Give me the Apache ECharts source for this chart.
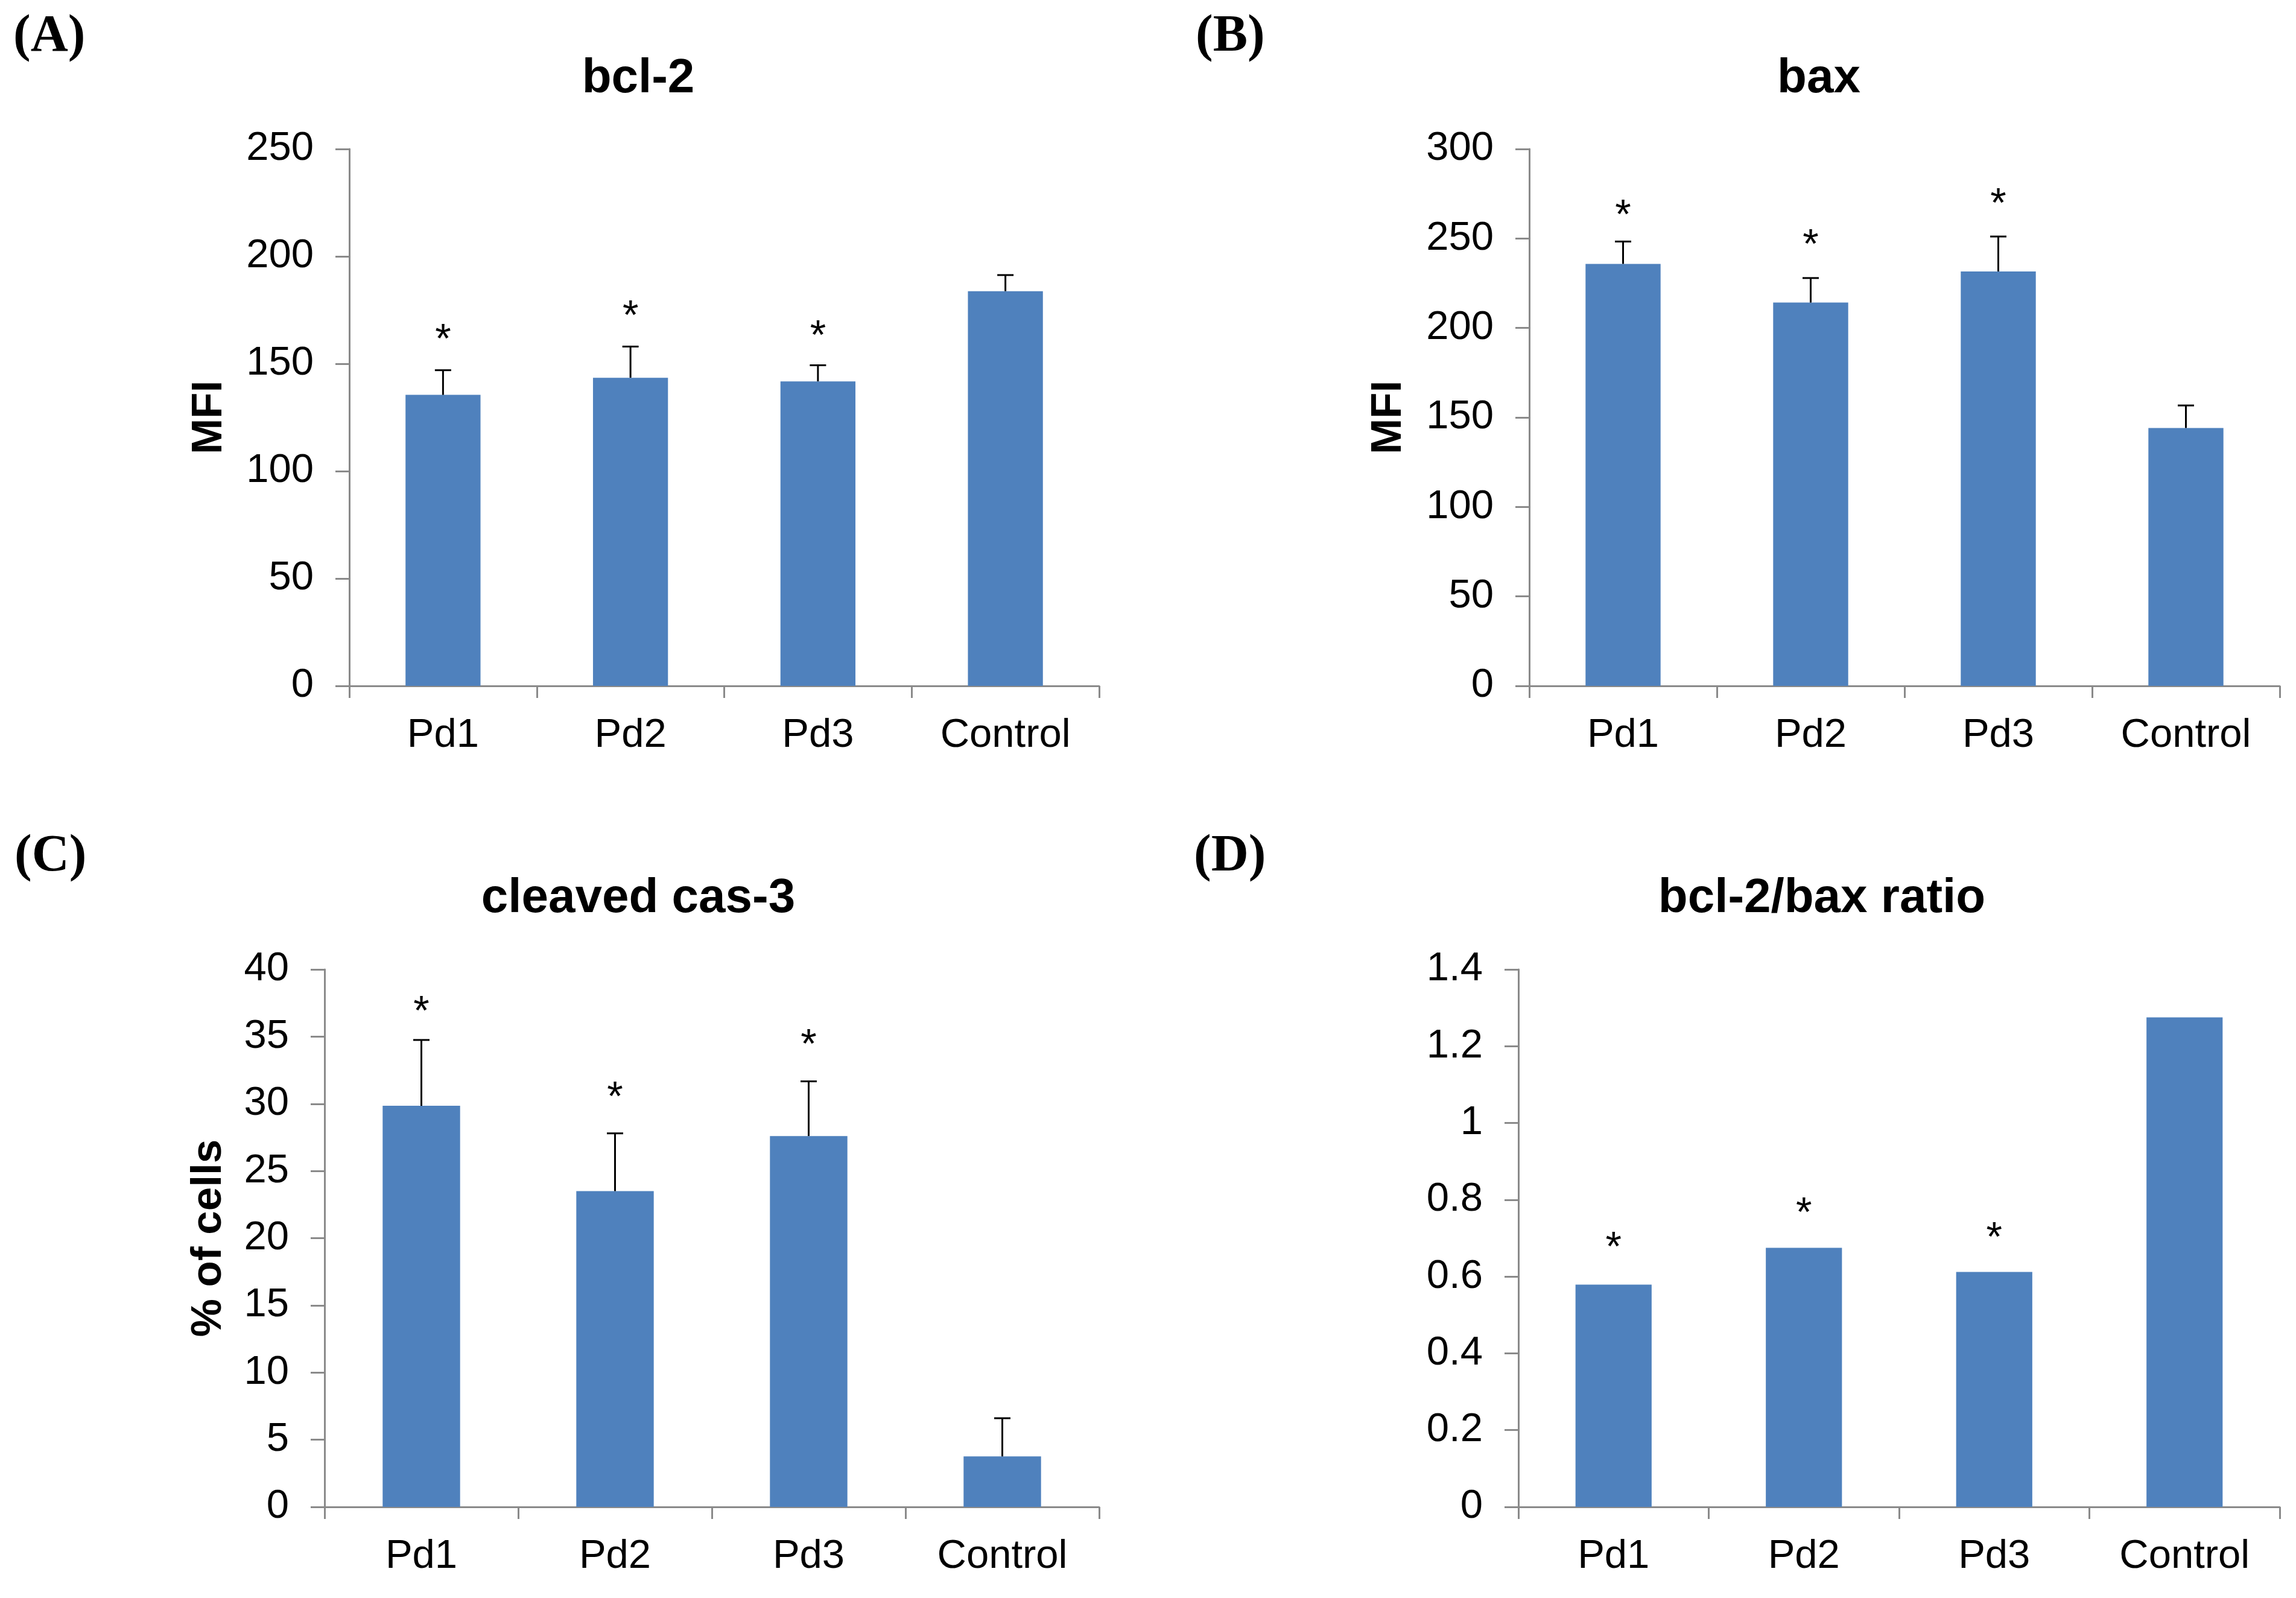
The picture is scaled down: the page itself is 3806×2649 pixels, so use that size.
<!DOCTYPE html>
<html><head><meta charset="utf-8">
<script src="https://cdn.jsdelivr.net/npm/echarts@6/dist/echarts.min.js"></script>
<style>html,body{margin:0;padding:0;background:#fff}#c{width:3806px;height:2649px}</style>
</head><body><div id="c"></div>
<script>
// ---- data ----
const categories = ['Pd1', 'Pd2', 'Pd3', 'Control'];

const bcl2Values = [135.5, 143.5, 141.8, 183.8];
const bcl2ErrTop = [147.0, 158.0, 149.3, 191.3];
const bcl2Stars  = [164.8, 175.9, 166.6, null];
const bcl2Ticks  = [0, 50, 100, 150, 200, 250];

const baxValues = [235.8, 214.2, 231.6, 144.1];
const baxErrTop = [248.3, 227.9, 251.1, 156.7];
const baxStars  = [267.3, 250.6, 273.7, null];
const baxTicks  = [0, 50, 100, 150, 200, 250, 300];

const casValues = [29.85, 23.5, 27.6, 3.76];
const casErrTop = [34.75, 27.8, 31.67, 6.6];
const casStars  = [37.45, 31.06, 34.98, null];
const casTicks  = [0, 5, 10, 15, 20, 25, 30, 35, 40];

const ratioValues = [0.579, 0.675, 0.612, 1.275];
const ratioErrTop = [null, null, null, null];
const ratioStars  = [0.695, 0.785, 0.721, null];
const ratioTicks  = [0, 0.2, 0.4, 0.6, 0.8, 1, 1.2, 1.4];

const titles = ['bcl-2', 'bax', 'cleaved cas-3', 'bcl-2/bax ratio'];
const tags = ['(A)', '(B)', '(C)', '(D)'];
const yNames = ['MFI', 'MFI', '% of cells', ''];

// ---- layout ----
const SANS = '"Liberation Sans", Arial, sans-serif';
const SERIF = '"Liberation Serif", "Times New Roman", serif';
const AXIS_COLOR = '#8a8a8a';
const BAR_COLOR = '#4F81BD';

const panels = [
  {grid: {left: 579, top: 247, width: 1243, height: 890}, nameGap: 196, values: bcl2Values, err: bcl2ErrTop, stars: bcl2Stars, ticks: bcl2Ticks, tx: 1058, ty: 131, lx: 22, ly: 62},
  {grid: {left: 2535, top: 247, width: 1244, height: 890}, nameGap: 197, values: baxValues, err: baxErrTop, stars: baxStars, ticks: baxTicks, tx: 3015, ty: 131, lx: 1982, ly: 62},
  {grid: {left: 538, top: 1607, width: 1284, height: 891}, nameGap: 156, values: casValues, err: casErrTop, stars: casStars, ticks: casTicks, tx: 1058, ty: 1490, lx: 24, ly: 1421},
  {grid: {left: 2517, top: 1607, width: 1262, height: 891}, nameGap: 150, values: ratioValues, err: ratioErrTop, stars: ratioStars, ticks: ratioTicks, tx: 3020, ty: 1490, lx: 1979, ly: 1421}
];

const grids = [], xAxes = [], yAxes = [], series = [], graphics = [];

function errRender(params, api) {
  const i = api.value(0), v = api.value(1), e = api.value(2);
  const p0 = api.coord([i, v]);
  const p1 = api.coord([i, e]);
  const half = 13.5;
  return {
    type: 'group',
    children: [
      {type: 'line', shape: {x1: p0[0], y1: p0[1], x2: p1[0], y2: p1[1]}, style: {stroke: '#000', lineWidth: 3}},
      {type: 'line', shape: {x1: p1[0] - half, y1: p1[1], x2: p1[0] + half, y2: p1[1]}, style: {stroke: '#000', lineWidth: 3}}
    ]
  };
}
function starRender(params, api) {
  const p = api.coord([api.value(0), api.value(1)]);
  return {
    type: 'text', x: p[0], y: p[1] + 15,
    style: {text: '*', fill: '#000', font: '68px ' + SANS, align: 'center', verticalAlign: 'middle'}
  };
}

panels.forEach((p, k) => {
  grids.push(Object.assign({outerBoundsMode: 'none', containLabel: false}, p.grid));
  xAxes.push({
    type: 'category', gridIndex: k, data: categories,
    axisLine: {show: true, lineStyle: {color: AXIS_COLOR, width: 3}},
    axisTick: {show: true, length: 20, lineStyle: {color: AXIS_COLOR, width: 3}},
    axisLabel: {margin: 49, fontSize: 67, color: '#000', fontFamily: SANS},
    splitLine: {show: false}
  });
  const t = p.ticks;
  yAxes.push({
    type: 'value', gridIndex: k,
    min: t[0], max: t[t.length - 1], interval: t[1] - t[0],
    axisLine: {show: true, lineStyle: {color: AXIS_COLOR, width: 3}},
    axisTick: {show: true, length: 23, lineStyle: {color: AXIS_COLOR, width: 3}},
    axisLabel: {margin: 59, fontSize: 67, color: '#000', fontFamily: SANS},
    splitLine: {show: false},
    name: yNames[k], nameLocation: 'middle', nameGap: p.nameGap,
    nameTextStyle: {fontSize: 71, fontWeight: 'bold', color: '#000', fontFamily: SANS}
  });
  series.push({
    type: 'bar', xAxisIndex: k, yAxisIndex: k, data: p.values,
    barWidth: '40%', itemStyle: {color: BAR_COLOR}, silent: true
  });
  const errData = [];
  p.err.forEach((e, i) => { if (e != null) errData.push([i, p.values[i], e]); });
  if (errData.length) {
    series.push({type: 'custom', xAxisIndex: k, yAxisIndex: k, data: errData, renderItem: errRender, z: 5, silent: true, encode: {x: 0, y: 1}});
  }
  const starData = [];
  p.stars.forEach((s, i) => { if (s != null) starData.push([i, s]); });
  series.push({type: 'custom', xAxisIndex: k, yAxisIndex: k, data: starData, renderItem: starRender, z: 6, silent: true, encode: {x: 0, y: 1}});

  graphics.push({
    type: 'text', x: p.tx, y: p.ty,
    style: {text: titles[k], fill: '#000', font: 'bold 80px ' + SANS, align: 'center', verticalAlign: 'middle'}
  });
  graphics.push({
    type: 'text', x: p.lx, y: p.ly,
    style: {text: tags[k], fill: '#000', font: 'bold 86px ' + SERIF, align: 'left', verticalAlign: 'middle'}
  });
});

const chart = echarts.init(document.getElementById('c'), null, {renderer: 'canvas'});
chart.setOption({
  animation: false,
  backgroundColor: '#fff',
  grid: grids, xAxis: xAxes, yAxis: yAxes, series: series,
  graphic: graphics
});
</script>
</body></html>
